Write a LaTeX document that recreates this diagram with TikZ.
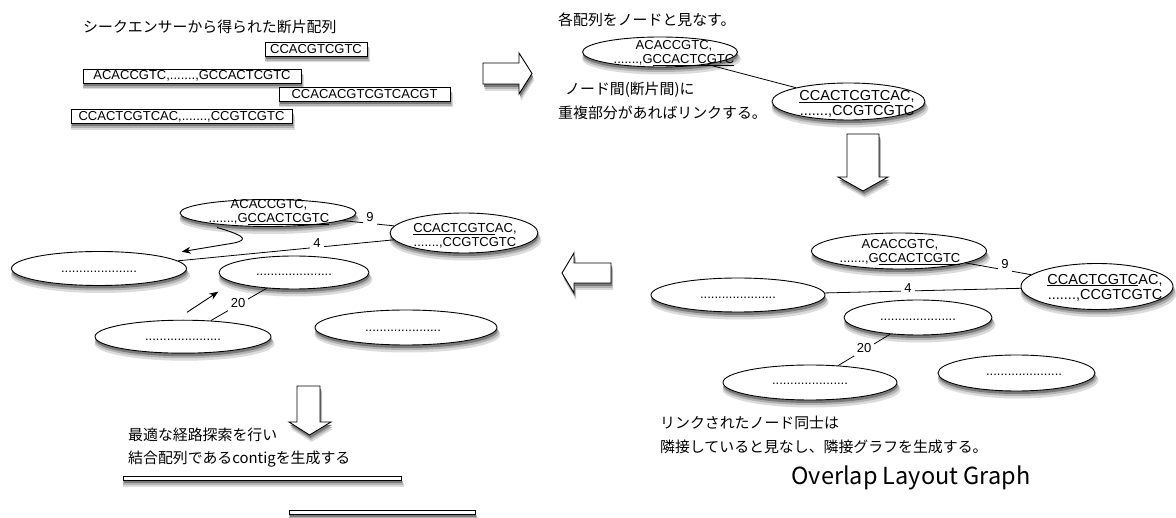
\documentclass[tikz,border=0pt]{standalone}
\usepackage{fontspec}
\setmainfont{Liberation Sans}
\newfontfamily\jpfam{Noto Sans CJK JP}
\usetikzlibrary{shapes.geometric,arrows.meta}
\newcommand\seqfont{\fontsize{13}{14}\selectfont}
\newcommand\seqfontb{\fontsize{14.5}{15}\selectfont}
\newcommand\jpfont{\jpfam\fontsize{14.9}{18}\selectfont}
\newcommand\olgfont{\jpfam\fontsize{23.5}{28}\selectfont}
\definecolor{shdA}{gray}{0.86}
\definecolor{shdB}{gray}{0.70}
\definecolor{shdC}{gray}{0.48}
\tikzset{
  ell/.style={ellipse, draw=black, line width=0.9pt, fill=white, inner sep=0pt},
  seqbox/.style={rectangle, draw=black, line width=0.9pt, fill=white, inner sep=0pt, font=\seqfont},
  seqtxt/.style={inner sep=0pt, align=center, font=\seqfont},
  jptxt/.style={inner sep=0pt, anchor=west, font=\jpfont},
  lbl/.style={fill=white, inner sep=3pt, font=\seqfont},
  edge/.style={draw=black, line width=0.8pt},
  arr/.style={draw=black, line width=0.9pt, -{Stealth[length=9pt,width=7pt]}},
  blockarrow/.style={draw=black, line width=0.9pt, fill=white, line join=miter},
}
% ellipse node with soft shadow: name, x, y, width, height
\newcommand\shell[5]{%
  \fill[shdA] ($(#2,#3)+(1.5,7)$) ellipse [x radius=#4/2+2, y radius=#5/2+0.5];
  \fill[shdB] ($(#2,#3)+(1,5)$) ellipse [x radius=#4/2+1, y radius=#5/2];
  \fill[shdC] ($(#2,#3)+(0.6,3)$) ellipse [x radius=#4/2, y radius=#5/2];
  \node[ell, minimum width=#4pt, minimum height=#5pt] (#1) at (#2,#3) {};}
% rectangle node with soft shadow: name, x, y, width, height, text
\newcommand\shbox[6]{%
  \begin{scope}[shift={(#2,#3)}]
  \fill[shdA] (-#4/2-0.5,-#5/2+6.5) rectangle (#4/2+3,#5/2+6.5);
  \fill[shdB] (-#4/2,-#5/2+4.7) rectangle (#4/2+2,#5/2+4.7);
  \fill[shdC] (-#4/2+0.6,-#5/2+3) rectangle (#4/2+1,#5/2+3);
  \end{scope}
  \node[seqbox, minimum width=#4pt, minimum height=#5pt] (#1) at (#2,#3) {#6};}
% block arrow with soft shadow: closed path
\newcommand\shblock[1]{%
  \begin{scope}[shift={(2,7)}]\fill[shdA] #1;\end{scope}
  \begin{scope}[shift={(1.5,5)}]\fill[shdB] #1;\end{scope}
  \begin{scope}[shift={(1,3)}]\fill[shdC] #1;\end{scope}
  \path[blockarrow] #1;}
\usetikzlibrary{calc}
\begin{document}
\begin{tikzpicture}[x=1pt,y=-1pt]
\useasboundingbox (0,0) rectangle (1176,518);
\fill[white] (0,0) rectangle (1176,518);

% ---------- top left: fragments ----------
\node[jptxt] (t1) at (83,27) {シークエンサーから得られた断片配列};
\shbox{s1}{316}{49}{102}{14}{CCACGTCGTC}
\shbox{s2}{192}{76}{218}{14}{ACACCGTC,.......,GCCACTCGTC}
\shbox{s3}{364.5}{94}{171}{14}{CCACACGTCGTCACGT}
\shbox{s4}{181.5}{116.5}{221}{14}{CCACTCGTCAC,.......,CCGTCGTC}

% right block arrow
\shblock{(483,63) -- (519,63) -- (519,53) -- (532,73.5) -- (519,94) -- (519,84) -- (483,84) -- cycle}

% ---------- top right ----------
\node[jptxt] (t2) at (558,20) {各配列をノードと見なす。};
\shell{n1}{660}{52}{155}{30}
\shell{n2}{848.5}{101.5}{153}{37}
\draw[edge] (n1) -- (n2);
\node[seqtxt] (n1t) at (674,53.5) {ACACCGTC,\\.......,G\underline{CCACTCGTC}};
\node[seqtxt, font=\seqfontb] (n2t) at (857,104) {\underline{CCACTCGTC}AC,\\.......,CCGTCGTC};
\node[jptxt] (t3) at (565,90) {ノード間(断片間)に};
\node[jptxt] (t4) at (558,113) {重複部分があればリンクする。};

% down block arrow
\shblock{(847,134) -- (879,134) -- (879,177) -- (888,177) -- (863,191) -- (838,177) -- (847,177) -- cycle}

% ---------- right graph ----------
\shell{ra}{899}{251}{175}{36}
\shell{rb}{1097}{286.5}{152}{46}
\shell{rc}{738}{295}{174}{34}
\shell{rd}{918}{317.5}{148}{35}
\shell{re}{810}{382.5}{174}{35}
\shell{rf}{1016.5}{373}{157}{36}
\node[seqtxt] (rat) at (900,252) {ACACCGTC,\\.......,G\underline{CCACTCGTC}};
\node[seqtxt, font=\seqfontb] (rbt) at (1105,287.5) {\underline{CCACTCGTC}AC,\\.......,CCGTCGTC};
\node[seqtxt] (rct) at (738,298) {.....................};
\node[seqtxt] (rdt) at (918,320) {.....................};
\node[seqtxt] (ret) at (810,384) {.....................};
\node[seqtxt] (rft) at (1024,375) {.....................};
\draw[edge] (ra) -- (rb);
\node[lbl] (r9) at (1005,264) {9};
\draw[edge] (rc) -- (rb);
\node[lbl] (r4) at (908,288.5) {4};
\draw[edge] (rd) -- (re);
\node[lbl] (r20) at (864,348) {20};
\node[jptxt] (t5) at (660,422.5) {リンクされたノード同士は};
\node[jptxt] (t6) at (660,446.5) {隣接していると見なし、隣接グラフを生成する。};
\node[font=\olgfont, inner sep=0pt] (t7) at (911,478) {Overlap Layout Graph};

% left block arrow
\shblock{(611,263) -- (574,263) -- (574,253) -- (562,273) -- (574,293) -- (574,283) -- (611,283) -- cycle}

% ---------- left graph ----------
\shell{la}{268}{213}{176}{27}
\shell{lb}{464}{233}{148}{40}
\shell{lc}{99}{268.5}{175}{34}
\shell{ld}{294}{272.5}{150}{33}
\shell{le}{183}{336.7}{176}{33}
\shell{lf}{406}{327.5}{182}{35}
\node[seqtxt] (lat) at (269,212.5) {ACACCGTC,\\.......,G\underline{CCACTCGTC}};
\node[seqtxt] (lbt) at (465,235.5) {\underline{CCACTCGTC}AC,\\.......,CCGTCGTC};
\node[seqtxt] (lct) at (99,271.7) {.....................};
\node[seqtxt] (ldt) at (294,275) {.....................};
\node[seqtxt] (let) at (183,340) {.....................};
\node[seqtxt] (lft) at (403,330.7) {.....................};
\draw[edge] (la) -- (lb);
\node[lbl] (l9) at (370,217) {9};
\draw[edge] (lc) -- (lb);
\node[lbl] (l4) at (317,243) {4};
\draw[edge] (ld) -- (le);
\node[lbl] (l20) at (238,303) {20};
\coordinate (cs) at (217,227.5);
\coordinate (ce) at (181.7,251.7);
\draw[arr] (cs) .. controls (250,237) and (248,241) .. (228,244) -- (ce);
\coordinate (ss) at (187,312.3);
\coordinate (se) at (218.3,291.7);
\draw[arr] (ss) -- (se);

% bottom block arrow
\shblock{(297,386) -- (320,386) -- (320,422) -- (331,422) -- (309.5,435) -- (289,422) -- (297,422) -- cycle}

\node[jptxt] (t8) at (128,435) {最適な経路探索を行い};
\node[jptxt] (t9) at (128,459) {結合配列であるcontigを生成する};
\shbox{c1}{262}{478.5}{278}{3.5}{}
\shbox{c2}{382}{512.5}{186}{3.5}{}
\end{tikzpicture}
\end{document}
